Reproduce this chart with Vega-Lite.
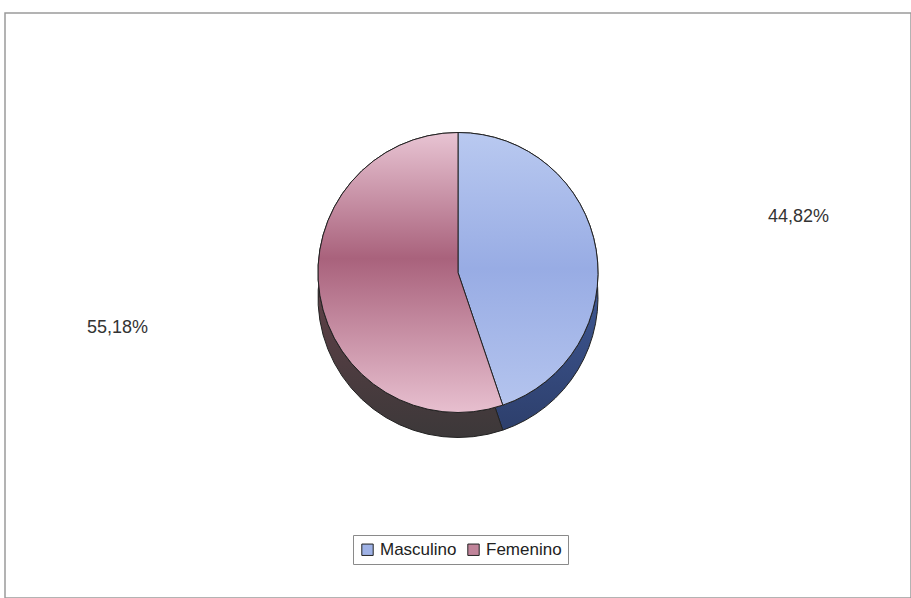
{
  "$schema": "https://vega.github.io/schema/vega-lite/v6.json",
  "width": 911,
  "height": 598,
  "autosize": {"type": "fit", "contains": "padding"},
  "padding": {"left": 5, "top": 13, "right": 0, "bottom": 0},
  "background": "white",
  "view": {"stroke": "#9a9a9a", "strokeWidth": 1.5, "fill": "white"},
  "data": {
    "values": [
      {"sexo": "Masculino", "pct": 44.82, "label": "44,82%"},
      {"sexo": "Femenino", "pct": 55.18, "label": "55,18%"}
    ]
  },
  "transform": [
    {"stack": "pct", "groupby": [], "sort": [{"field": "sexo", "order": "descending"}], "as": ["t0", "t1"]}
  ],
  "layer": [
    {
      "transform": [{"filter": "datum.sexo === 'Masculino'"}],
      "mark": {"type": "arc", "outerRadius": 140, "yOffset": -8, "stroke": "#222222", "strokeWidth": 1,
        "fill": {"gradient": "linear", "x1": 0, "y1": 0, "x2": 0, "y2": 1,
          "stops": [{"offset": 0, "color": "#4c66a6"}, {"offset": 0.6, "color": "#3a5189"}, {"offset": 1, "color": "#2d3f6c"}]}},
      "encoding": {
        "theta": {"field": "t0", "type": "quantitative", "scale": {"domain": [0, 100]}},
        "theta2": {"field": "t1"}
      }
    },
    {
      "transform": [{"filter": "datum.sexo === 'Femenino'"}],
      "mark": {"type": "arc", "outerRadius": 140, "yOffset": -8, "stroke": "#222222", "strokeWidth": 1,
        "fill": {"gradient": "linear", "x1": 0, "y1": 0, "x2": 0, "y2": 1,
          "stops": [{"offset": 0, "color": "#6a4f55"}, {"offset": 0.55, "color": "#5a3f45"}, {"offset": 1, "color": "#3c3839"}]}},
      "encoding": {
        "theta": {"field": "t0", "type": "quantitative", "scale": {"domain": [0, 100]}},
        "theta2": {"field": "t1"}
      }
    },
    {
      "mark": {"type": "arc", "outerRadius": 140, "yOffset": -33, "stroke": "#222222", "strokeWidth": 1},
      "encoding": {
        "theta": {"field": "t0", "type": "quantitative", "scale": {"domain": [0, 100]}},
        "theta2": {"field": "t1"},
        "color": {
          "field": "sexo", "type": "nominal",
          "scale": {"domain": ["Masculino", "Femenino"], "range": ["#9fb2e6", "#c0849a"]},
          "legend": {
            "title": null,
            "orient": "none",
            "direction": "horizontal",
            "legendX": 348,
            "legendY": 522,
            "strokeColor": "#8a8a8a",
            "padding": 6,
            "labelFont": "Liberation Sans",
            "labelFontSize": 17,
            "labelColor": "#222222",
            "symbolType": "square",
            "symbolSize": 130,
            "symbolStrokeColor": "#222222",
            "symbolStrokeWidth": 1,
            "columnPadding": 8
          }
        }
      }
    },
    {
      "transform": [{"filter": "datum.sexo === 'Masculino'"}],
      "mark": {"type": "arc", "outerRadius": 140, "yOffset": -33, "stroke": "#222222", "strokeWidth": 1,
        "fill": {"gradient": "linear", "x1": 0, "y1": 0, "x2": 0, "y2": 1,
          "stops": [{"offset": 0, "color": "#b9c9f0"}, {"offset": 0.5, "color": "#98ace4"}, {"offset": 1, "color": "#b4c4ee"}]}},
      "encoding": {
        "theta": {"field": "t0", "type": "quantitative", "scale": {"domain": [0, 100]}},
        "theta2": {"field": "t1"}
      }
    },
    {
      "transform": [{"filter": "datum.sexo === 'Femenino'"}],
      "mark": {"type": "arc", "outerRadius": 140, "yOffset": -33, "stroke": "#222222", "strokeWidth": 1,
        "fill": {"gradient": "linear", "x1": 0, "y1": 0, "x2": 0, "y2": 1,
          "stops": [{"offset": 0, "color": "#e8c4d3"}, {"offset": 0.45, "color": "#a9627c"}, {"offset": 1, "color": "#e7bfcf"}]}},
      "encoding": {
        "theta": {"field": "t0", "type": "quantitative", "scale": {"domain": [0, 100]}},
        "theta2": {"field": "t1"}
      }
    },
    {
      "mark": {"type": "text", "radius": 345, "yOffset": -33, "fontSize": 18, "font": "Liberation Sans Narrow, Liberation Sans", "color": "#333333"},
      "encoding": {
        "theta": {"field": "pct", "type": "quantitative", "stack": true, "scale": {"domain": [0, 100]}},
        "order": {"field": "sexo", "sort": "descending"},
        "text": {"field": "label", "type": "nominal"}
      }
    }
  ]
}
